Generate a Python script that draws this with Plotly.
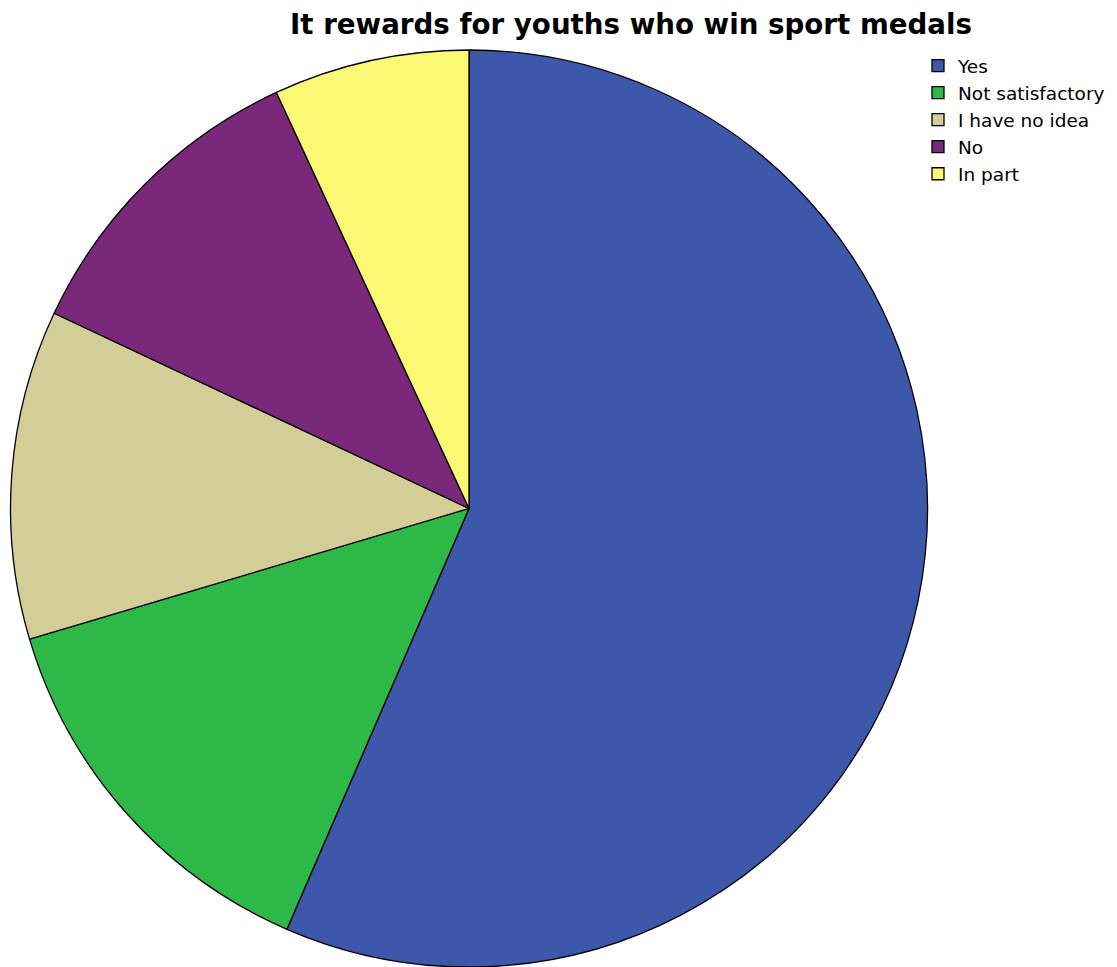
import plotly.graph_objects as go

W, H = 1117, 967

categories = ["Yes", "Not satisfactory", "I have no idea", "No", "In part"]
shares = [56.5, 13.9, 11.6, 11.1, 6.9]
colors = ["#3D58AA", "#2EB848", "#D3CE97", "#7A287A", "#FBF873"]

fig = go.Figure(
    go.Pie(
        labels=categories,
        values=shares,
        sort=False,
        direction="clockwise",
        rotation=0,
        textinfo="none",
        hoverinfo="label+percent",
        marker=dict(colors=colors, line=dict(color="#000000", width=1.3)),
        domain=dict(x=[9 / W, 929 / W], y=[0, 1 - 50 / H]),
    )
)

fig.update_layout(
    width=W,
    height=H,
    margin=dict(l=0, r=0, t=0, b=0),
    paper_bgcolor="white",
    plot_bgcolor="white",
    title=dict(
        text="<b>It rewards for youths who win sport medals</b>",
        x=631 / W,
        xanchor="center",
        y=1 - 24 / H,
        yanchor="middle",
        font=dict(family="DejaVu Sans", size=27.7, color="#000000"),
    ),
    legend=dict(
        x=918 / W,
        xanchor="left",
        y=1 - 47 / H,
        yanchor="top",
        font=dict(family="DejaVu Sans", size=18.5, color="#000000"),
        itemwidth=30,
        tracegroupgap=0,
        bgcolor="rgba(0,0,0,0)",
    ),
)

fig.write_html("out.html")
